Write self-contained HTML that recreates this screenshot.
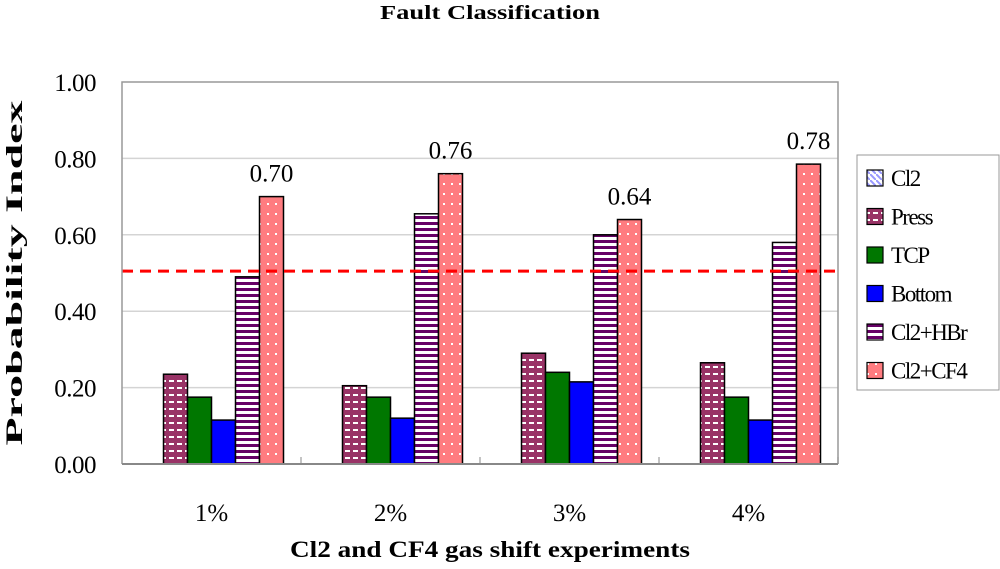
<!DOCTYPE html>
<html><head><meta charset="utf-8"><style>
body{margin:0;background:#fff}
svg{display:block}
text{font-family:"Liberation Serif",serif}
</style></head><body>
<svg id="chart" width="1000" height="569" viewBox="0 0 1000 569">
<defs>
<pattern id="pPress" width="8" height="7" patternUnits="userSpaceOnUse"><rect width="8" height="7" fill="#993366"/><rect x="1" y="2" width="5" height="2" fill="#fff"/></pattern>
<pattern id="pHBr" width="6" height="6" patternUnits="userSpaceOnUse"><rect width="6" height="6" fill="#fff"/><rect y="0" width="6" height="3" fill="#660066"/></pattern>
<pattern id="pCF4" width="8" height="10" patternUnits="userSpaceOnUse"><rect width="8" height="10" fill="#ff7c80"/><rect x="3" y="3" width="2" height="2" fill="#fff"/></pattern>
<pattern id="pCl2" width="6" height="6" patternUnits="userSpaceOnUse"><rect width="6" height="6" fill="#fff"/><path d="M0 0L6 6" stroke="#9999ff" stroke-width="2"/></pattern>
</defs>
<text x="490" y="19" text-anchor="middle" font-weight="bold" font-size="20" textLength="220" lengthAdjust="spacingAndGlyphs" font-family="Liberation Serif, serif">Fault Classification</text>
<text x="490" y="557" text-anchor="middle" font-weight="bold" font-size="23" textLength="400" lengthAdjust="spacingAndGlyphs" font-family="Liberation Serif, serif">Cl2 and CF4 gas shift experiments</text>
<text transform="translate(22,273) rotate(-90)" text-anchor="middle" font-weight="bold" font-size="23" textLength="345" lengthAdjust="spacingAndGlyphs" font-family="Liberation Serif, serif">Probability Index</text>
<g id="grid"></g><g id="bars"></g><g id="axes"></g>
<g>
<rect x="857" y="155" width="142" height="235" fill="#fff" stroke="#999"/>
<g id="legend"></g>
</g>
</svg>
<script>
const categories=["1%","2%","3%","4%"];
const seriesNames=["Cl2","Press","TCP","Bottom","Cl2+HBr","Cl2+CF4"];
const cl2=[0,0,0,0];
const press=[0.235,0.205,0.29,0.265];
const tcp=[0.175,0.175,0.24,0.175];
const bottom=[0.115,0.12,0.215,0.115];
const hbr=[0.49,0.655,0.60,0.58];
const cf4=[0.70,0.76,0.64,0.785];
const cf4Labels=["0.70","0.76","0.64","0.78"];
const yTicks=[0,0.2,0.4,0.6,0.8,1.0];
const yTickLabels=["0.00","0.20","0.40","0.60","0.80","1.00"];
const threshold=0.505;

const NS="http://www.w3.org/2000/svg";
const L=122,R=838,T=82,B=464;
const FONT="Liberation Serif, serif";
const fills=["url(#pCl2)","url(#pPress)","#007700","#0000ff","url(#pHBr)","url(#pCF4)"];
const series=[cl2,press,tcp,bottom,hbr,cf4];
const y=v=>B-(B-T)*v;
const cw=(R-L)/categories.length, bw=24;
const x=(ci,si)=>L+cw*ci+cw/2-3*bw+si*bw;
function mk(tag,attrs,parent){const e=document.createElementNS(NS,tag);for(const k in attrs)e.setAttribute(k,attrs[k]);if(tag==='text')e.setAttribute('font-family',FONT);document.getElementById(parent).appendChild(e);return e;}
yTicks.forEach((t,i)=>{
 if(t>0&&t<1){const g=mk('line',{x1:L,x2:R,y1:y(t),y2:y(t),stroke:'#d4d4d4','stroke-width':1.5},'grid');
 
 }
 const tx=mk('text',{x:L-26,y:y(t)+9,'text-anchor':'end','font-size':25,'letter-spacing':'-0.5'},'axes');tx.textContent=yTickLabels[i];
 
 
});
const fr=mk('path',{d:`M${L} ${B}V${T}H${R}V${B}`,fill:'none',stroke:'#999','stroke-width':1.5},'axes');


const xa=mk('line',{x1:L,x2:R,y1:B,y2:B,stroke:'#888','stroke-width':2},'axes');


categories.forEach((c,ci)=>{
 const tk=mk('line',{x1:L+cw*(ci+1),x2:L+cw*(ci+1),y1:B,y2:B-7,stroke:'#888'},'axes');
 
 
 const tx=mk('text',{x:L+cw*ci+cw/2,y:521,'text-anchor':'middle','font-size':25},'axes');tx.textContent=c;
 
 
 series.forEach((s,si)=>{
  if(s[ci]<=0)return;
  const r=mk('rect',{x:x(ci,si),y:y(s[ci]),width:bw,height:B-y(s[ci]),fill:fills[si],stroke:'#000','stroke-width':1.5},'bars');
  
  
 });
 const lb=mk('text',{x:x(ci,5)+bw/2,y:y(cf4[ci])-15,'text-anchor':'middle','font-size':25},'bars');lb.textContent=cf4Labels[ci];
 
 
});
const th=mk('line',{x1:L,x2:R,y1:y(threshold),y2:y(threshold),stroke:'#ff0000','stroke-width':3,'stroke-dasharray':'11 7'},'bars');


seriesNames.forEach((n,i)=>{
 const yy=170+i*38.5;
 const sw=mk('rect',{x:867,y:yy,width:16,height:16,fill:fills[i],stroke:'#000','stroke-width':1.2},'legend');
 
 
 const t=mk('text',{x:891,y:yy+16,'font-size':23,'letter-spacing':'-1.5'},'legend');t.textContent=n;
 
 
});
</script>
</body></html>
